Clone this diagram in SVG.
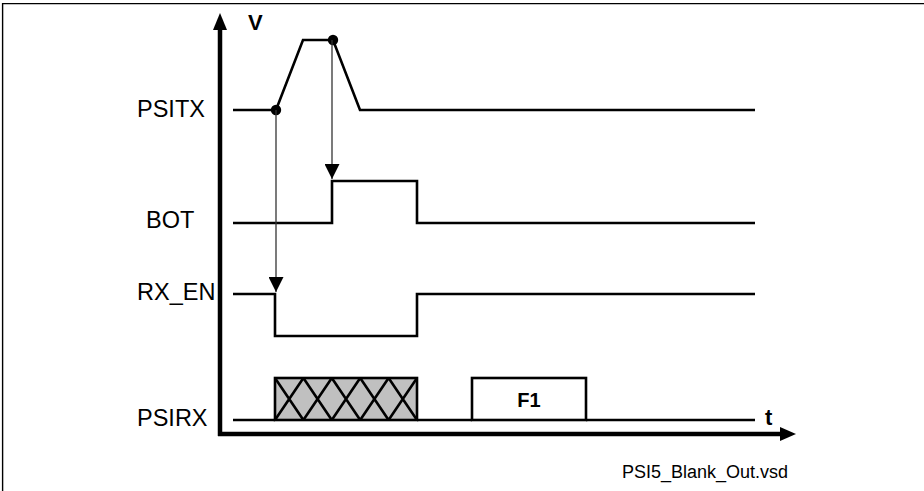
<svg xmlns="http://www.w3.org/2000/svg" width="924" height="491" viewBox="0 0 924 491">
<style>
.sig{fill:none;stroke:#000;stroke-width:2.6;stroke-linejoin:miter}
.lbl{font-family:"Liberation Sans",Arial,sans-serif;font-size:23.5px;fill:#000}
.bold{font-family:"Liberation Sans",Arial,sans-serif;font-weight:bold;fill:#000}
.axis{stroke:#000;stroke-width:4.5;fill:none}
.thin{stroke:#333;stroke-width:1.3;fill:none}
</style>
<defs>
<marker id="ah" markerWidth="15" markerHeight="15" viewBox="0 0 15 15" refX="15" refY="7.5" orient="auto" markerUnits="userSpaceOnUse">
<path d="M0,0 L15,7.5 L0,15 Z" fill="#000"/>
</marker>
</defs>
<rect width="924" height="491" fill="#fff"/>
<path d="M2.6,491 V3.6 H924" fill="none" stroke="#000" stroke-width="1.4"/>

<g id="axes">
<line class="axis" x1="220" y1="436" x2="220" y2="28"/>
<path d="M213,30 L220,13 L227,30 Z" fill="#000"/>
<line class="axis" x1="218" y1="434" x2="781" y2="434"/>
<path d="M780,427 L796,434 L780,441 Z" fill="#000"/>
<text class="bold" x="248" y="30" font-size="22">V</text>
<text class="bold" x="765" y="425" font-size="22">t</text>
</g>

<g id="psitx">
<text class="lbl" x="137" y="117">PSITX</text>
<path class="sig" d="M233,110 H276 L303,40 H333 L360,110 H755"/>
<circle cx="276" cy="110" r="5.2" fill="#000"/>
<circle cx="333" cy="40" r="5.2" fill="#000"/>
</g>

<g id="bot">
<text class="lbl" x="146" y="228">BOT</text>
<path class="sig" d="M233,223 H332 V181 H417 V223 H755"/>
</g>

<g id="rx_en">
<text class="lbl" x="137" y="300">RX_EN</text>
<path class="sig" d="M233,294 H275 V336 H417 V294 H755"/>
</g>

<g id="psirx">
<text class="lbl" x="137" y="426">PSIRX</text>
<path class="sig" d="M233,420 H275 M417,420 H472 M586,420 H755"/>
<rect x="275" y="378" width="142" height="42" fill="#c0c0c0" stroke="#000" stroke-width="2.6"/>
<path class="sig" d="M275,378 L303.4,420 M303.4,378 L275,420 M303.4,378 L331.8,420 M331.8,378 L303.4,420 M331.8,378 L360.2,420 M360.2,378 L331.8,420 M360.2,378 L388.6,420 M388.6,378 L360.2,420 M388.6,378 L417,420 M417,378 L388.6,420"/>
</g>

<g id="f1">
<rect x="472" y="378" width="114" height="42" fill="#fff" stroke="#000" stroke-width="2.6"/>
<text class="bold" x="529" y="407" font-size="20" text-anchor="middle">F1</text>
</g>

<g id="connectors">
<line class="thin" x1="276" y1="110" x2="276" y2="292" marker-end="url(#ah)"/>
<line class="thin" x1="332" y1="40" x2="332" y2="179" marker-end="url(#ah)"/>
</g>

<text x="622" y="478" font-family="'Liberation Sans',Arial,sans-serif" font-size="18" fill="#000">PSI5_Blank_Out.vsd</text>
</svg>
